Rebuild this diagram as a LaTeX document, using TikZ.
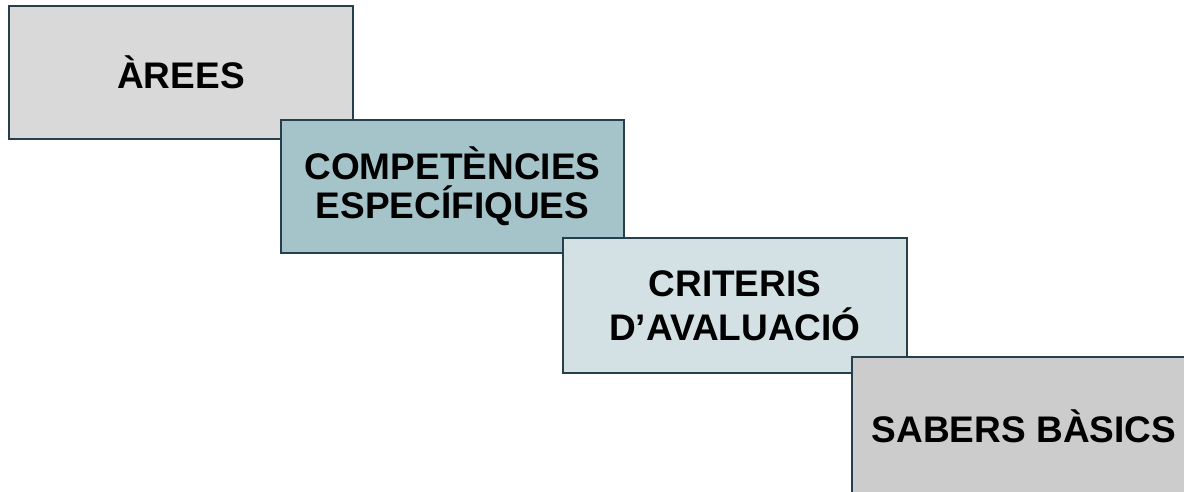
\documentclass[tikz,border=0pt]{standalone}
\usepackage{fontspec}
\setmainfont{Liberation Sans}
\definecolor{edgec}{HTML}{263F4C}
\definecolor{fillA}{HTML}{D9D9D9}
\definecolor{fillB}{HTML}{A5C4CA}
\definecolor{fillC}{HTML}{D3E1E4}
\definecolor{fillD}{HTML}{CCCCCC}
\tikzset{
  stepbox/.style={draw=edgec, line width=2pt, rectangle, inner sep=0pt, align=center,
    minimum width=344pt, minimum height=133pt, text=black},
}
\begin{document}
\begin{tikzpicture}[x=1pt,y=-1pt]
\useasboundingbox (0,0) rectangle (1184,491);
\clip (0,0) rectangle (1184,491);
\node[stepbox, fill=fillA, font=\fontsize{37}{39}\selectfont\bfseries] (arees) at (181,72.5) {ÀREES};
\node[stepbox, fill=fillB, minimum width=343pt, font=\fontsize{37}{39}\selectfont\bfseries] (comp) at (452.5,186.5) {COMPETÈNCIES\\ESPECÍFIQUES};
\node[stepbox, fill=fillC, minimum height=135pt, font=\fontsize{37}{44}\selectfont\bfseries] (crit) at (735,305.5) {CRITERIS\\D’AVALUACIÓ};
\node[stepbox, fill=fillD, minimum height=142pt, font=\fontsize{37}{39}\selectfont\bfseries] (sab) at (1024,428) {\raisebox{4pt}{SABERS BÀSICS}};
\end{tikzpicture}
\end{document}
